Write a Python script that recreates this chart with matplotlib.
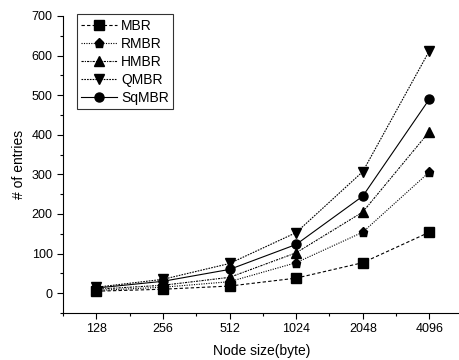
import matplotlib
matplotlib.use("Agg")
import matplotlib.pyplot as plt
from matplotlib.ticker import MultipleLocator

plt.rcParams['font.family'] = ['Liberation Sans', 'DejaVu Sans']

node_sizes = ["128", "256", "512", "1024", "2048", "4096"]
mbr = [5, 10, 18, 38, 77, 154]
rmbr = [7, 15, 29, 77, 154, 306]
hmbr = [10, 20, 40, 102, 205, 408]
qmbr = [15, 35, 75, 153, 307, 612]
sqmbr = [13, 30, 60, 123, 245, 490]

series = [
    ("MBR", mbr, 's', (0, (3, 2))),
    ("RMBR", rmbr, 'p', (0, (1, 1.2))),
    ("HMBR", hmbr, '^', (0, (2, 1, 1, 1))),
    ("QMBR", qmbr, 'v', (0, (1.5, 1))),
    ("SqMBR", sqmbr, 'o', '-'),
]

fig = plt.figure(figsize=(4.6, 3.6), dpi=100)
ax = fig.add_axes([0.137, 0.1306, 0.863, 0.825])
x = list(range(len(node_sizes)))
for name, vals, m, ls in series:
    ax.plot(x, vals, color='black', linestyle=ls, linewidth=0.8,
            marker=m, markersize=6.5, label=name)

ax.set_xlim(-0.5, 5.46)
ax.set_ylim(-50, 700)
ax.set_xticks(x)
ax.set_xticklabels(node_sizes)
ax.xaxis.set_minor_locator(MultipleLocator(0.5))
ax.yaxis.set_major_locator(MultipleLocator(100))
ax.yaxis.set_minor_locator(MultipleLocator(50))
ax.spines['top'].set_visible(False)
ax.spines['right'].set_visible(False)
ax.tick_params(which='both', direction='out', labelsize=9, width=0.8)
ax.tick_params(which='major', length=4)
ax.tick_params(which='minor', length=2.5)
ax.set_xlabel("Node size(byte)", fontsize=10, labelpad=6)
ax.set_ylabel("# of entries", fontsize=10)

leg = ax.legend(loc='upper left', bbox_to_anchor=(0.035, 1.005), fontsize=10,
                frameon=True, fancybox=False, edgecolor='black',
                handlelength=2.6, handletextpad=0.3, borderpad=0.3,
                labelspacing=0.3, borderaxespad=0.0)
leg.get_frame().set_linewidth(0.8)

fig.savefig("out.png", dpi=100)
